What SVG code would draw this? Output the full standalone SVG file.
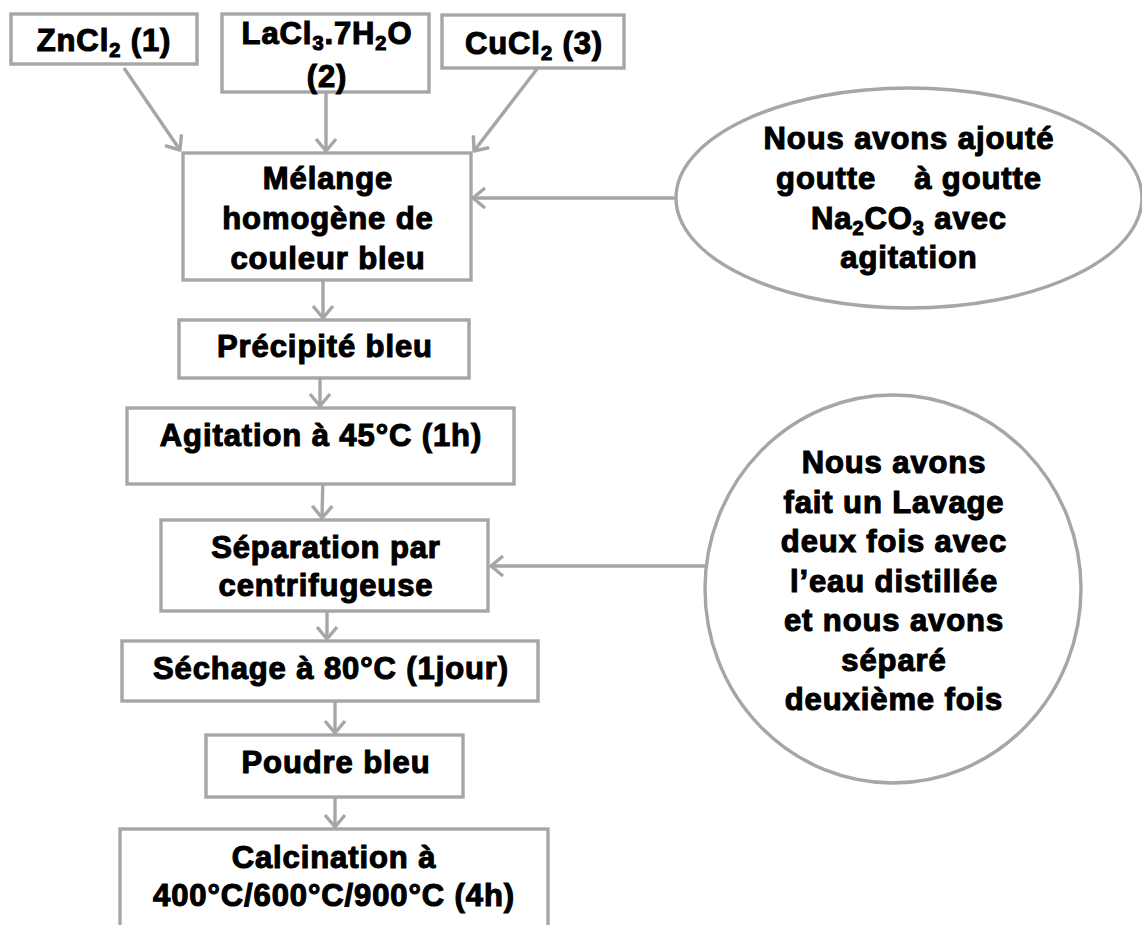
<svg xmlns="http://www.w3.org/2000/svg" width="1142" height="925" viewBox="0 0 1142 925">
<style>
.box{fill:#fff;stroke:#a6a6a6;stroke-width:3.4}
.ln{fill:none;stroke:#a6a6a6;stroke-width:3.4}
.t{font-family:"Liberation Sans",Arial,sans-serif;font-weight:bold;font-size:31px;letter-spacing:0.9px;fill:#000;stroke:#000;stroke-width:1.1;text-anchor:middle;white-space:pre}
.s{font-size:20px}
</style>
<defs>
<marker id="arr" viewBox="-14 -12 16 24" refX="0" refY="0" markerWidth="16" markerHeight="24" markerUnits="userSpaceOnUse" orient="auto">
<path d="M-12,-10 L0,0 L-12,10" fill="none" stroke="#a6a6a6" stroke-width="3.4" stroke-linejoin="round"/>
</marker>
</defs>
<rect width="1142" height="925" fill="#fff"/>
<g id="connectors">
<line class="ln" x1="124" y1="68" x2="180" y2="150" marker-end="url(#arr)"/>
<line class="ln" x1="326" y1="92" x2="326" y2="151" marker-end="url(#arr)"/>
<line class="ln" x1="537" y1="69" x2="474" y2="151" marker-end="url(#arr)"/>
<line class="ln" x1="676" y1="198" x2="473" y2="198" marker-end="url(#arr)"/>
<line class="ln" x1="323" y1="280" x2="323" y2="318" marker-end="url(#arr)"/>
<line class="ln" x1="320" y1="378" x2="320" y2="406" marker-end="url(#arr)"/>
<line class="ln" x1="323" y1="475" x2="322" y2="518" marker-end="url(#arr)"/>
<line class="ln" x1="705" y1="566" x2="491" y2="566" marker-end="url(#arr)"/>
<line class="ln" x1="327" y1="611" x2="327" y2="639" marker-end="url(#arr)"/>
<line class="ln" x1="335" y1="701" x2="335" y2="733" marker-end="url(#arr)"/>
<line class="ln" x1="335" y1="797" x2="335" y2="827" marker-end="url(#arr)"/>
</g>
<g id="n-zncl2">
<rect class="box" x="11" y="14" width="186" height="50"/>
<text class="t" x="104" y="51">ZnCl<tspan class="s" dy="6">2</tspan><tspan dy="-6"> (1)</tspan></text>
</g>
<g id="n-lacl3">
<rect class="box" x="222" y="14" width="207" height="78"/>
<text class="t" x="327" y="44">LaCl<tspan class="s" dy="6">3</tspan><tspan dy="-6">.7H</tspan><tspan class="s" dy="6">2</tspan><tspan dy="-6">O</tspan></text>
<text class="t" x="327" y="87">(2)</text>
</g>
<g id="n-cucl2">
<rect class="box" x="442" y="15" width="182" height="53"/>
<text class="t" x="534" y="54">CuCl<tspan class="s" dy="6">2</tspan><tspan dy="-6"> (3)</tspan></text>
</g>
<g id="n-melange">
<rect class="box" x="183" y="153" width="288" height="127"/>
<text class="t" x="328" y="189">Mélange</text>
<text class="t" x="328" y="229">homogène de</text>
<text class="t" x="328" y="269">couleur bleu</text>
</g>
<g id="n-ajout">
<ellipse class="box" cx="909" cy="198" rx="233" ry="110"/>
<text class="t" x="909" y="149">Nous avons ajouté</text>
<text class="t" x="909" y="189">goutte    à goutte</text>
<text class="t" x="909" y="229">Na<tspan class="s" dy="6">2</tspan><tspan dy="-6">CO</tspan><tspan class="s" dy="6">3</tspan><tspan dy="-6"> avec</tspan></text>
<text class="t" x="909" y="268">agitation</text>
</g>
<g id="n-precipite">
<rect class="box" x="179" y="320" width="290" height="58"/>
<text class="t" x="325" y="357">Précipité bleu</text>
</g>
<g id="n-agitation">
<rect class="box" x="127" y="408" width="387" height="76"/>
<text class="t" x="321" y="446">Agitation à 45°C (1h)</text>
</g>
<g id="n-separation">
<rect class="box" x="161" y="520" width="327" height="91"/>
<text class="t" x="326" y="558">Séparation par</text>
<text class="t" x="326" y="596">centrifugeuse</text>
</g>
<g id="n-lavage">
<ellipse class="box" cx="893" cy="589" rx="188" ry="194"/>
<text class="t" x="894" y="473">Nous avons</text>
<text class="t" x="894" y="513">fait un Lavage</text>
<text class="t" x="894" y="552">deux fois avec</text>
<text class="t" x="894" y="592">l’eau distillée</text>
<text class="t" x="894" y="631">et nous avons</text>
<text class="t" x="894" y="671">séparé</text>
<text class="t" x="894" y="710">deuxième fois</text>
</g>
<g id="n-sechage">
<rect class="box" x="122" y="641" width="416" height="60"/>
<text class="t" x="331" y="679">Séchage à 80°C (1jour)</text>
</g>
<g id="n-poudre">
<rect class="box" x="206" y="735" width="257" height="62"/>
<text class="t" x="336" y="773">Poudre bleu</text>
</g>
<g id="n-calcination">
<rect class="box" x="120" y="829" width="428" height="110"/>
<text class="t" x="334" y="868">Calcination à</text>
<text class="t" x="334" y="906">400°C/600°C/900°C (4h)</text>
</g>
</svg>
